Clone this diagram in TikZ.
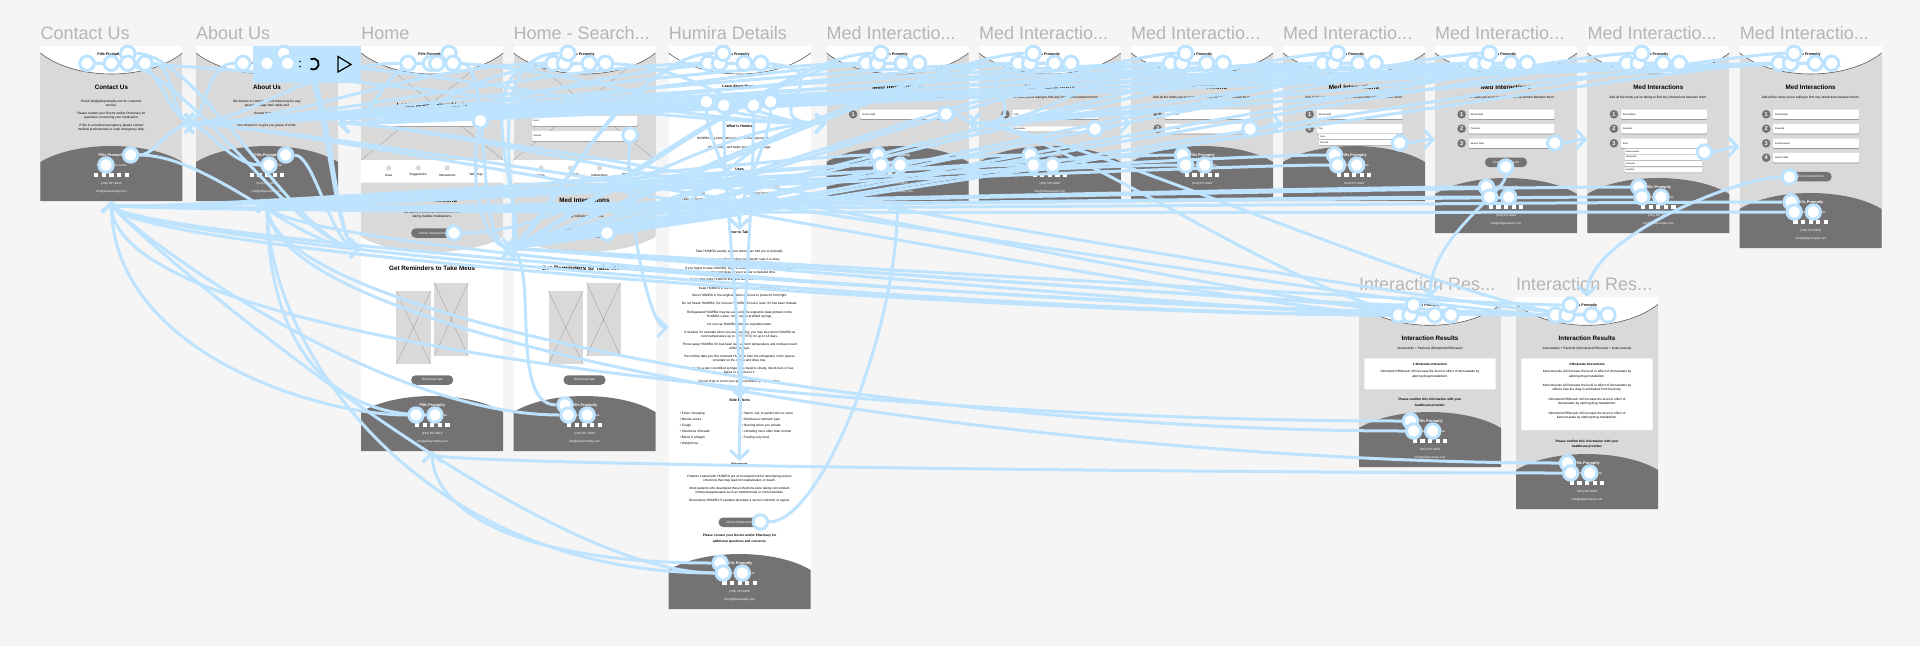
\documentclass[tikz,border=0pt]{standalone}
\usepackage{fontspec}
\setmainfont{Liberation Sans}
\usetikzlibrary{arrows.meta,shadows}
\definecolor{wireblue}{HTML}{BDE3FF}
\definecolor{pagegrey}{HTML}{F5F5F5}
\definecolor{bodygrey}{HTML}{D9D9D9}
\definecolor{footgrey}{HTML}{757273}
\definecolor{titlegrey}{HTML}{B5B5B5}
\pgfdeclarelayer{back}
\pgfdeclarelayer{wires}
\pgfsetlayers{back,wires,main}
\newcounter{lblno}
\tikzset{
  screen/.style={minimum width=142pt,inner sep=0pt,outer sep=0pt},
  frametitle/.style={anchor=west,inner sep=0pt,text=titlegrey,font=\fontsize{18}{20}\selectfont},
  small/.style={inner sep=0pt,align=center,font=\fontsize{3.2}{3.6}\selectfont},
  smallb/.style={inner sep=0pt,align=center,font=\fontsize{3.2}{3.6}\selectfont\bfseries},
  left3/.style={inner sep=0pt,anchor=west,font=\fontsize{3.2}{3.6}\selectfont},
  sect/.style={inner sep=0pt,font=\fontsize{3.6}{4}\selectfont\bfseries},
  head/.style={inner sep=0pt,font=\fontsize{6.3}{7}\selectfont\bfseries},
  whitet/.style={inner sep=0pt,text=white,font=\fontsize{3}{3.6}\selectfont},
  whiteb/.style={inner sep=0pt,text=white,font=\fontsize{3.8}{4}\selectfont\bfseries},
  btn/.style={rounded corners=4.5pt,fill=footgrey,text=white,minimum width=42pt,minimum height=9.5pt,inner sep=0pt,font=\fontsize{3.2}{3.6}\selectfont},
  medbox/.style={rounded corners=1pt,fill=white,drop shadow={shadow xshift=0pt,shadow yshift=-.8pt,fill=black!45,opacity=1},minimum width=86pt,minimum height=9.6pt,inner sep=0pt,text width=82pt,align=left,font=\fontsize{2.4}{3}\selectfont},
  herobox/.style={medbox,minimum width=106pt,text width=102pt},
  dropbox/.style={rounded corners=.6pt,fill=white,drop shadow={shadow xshift=0pt,shadow yshift=-.5pt,fill=black!45,opacity=1},minimum width=78pt,minimum height=5.2pt,inner sep=0pt,text width=75pt,align=left,font=\fontsize{2.2}{3}\selectfont},
  numb/.style={circle,fill=footgrey,text=white,minimum size=8.6pt,inner sep=0pt,font=\fontsize{5.6}{6}\selectfont\bfseries},
  spot/.style={circle,draw=wireblue,line width=3pt,fill=white,minimum size=14.4pt,inner sep=0pt},
  wire/.style={draw=wireblue,line width=3pt,-{Straight Barb[length=9pt,width=19pt]}},
  xline/.style={draw=black!40,line width=.3pt},
}
\newcommand{\lbl}[4]{\stepcounter{lblno}\node[#1] (lbl\arabic{lblno}) at (#2,#3) {#4};}
\newcommand{\Screen}[5]{%
  \pgfmathsetmacro\midy{(45.7+#3)/2}
  \pgfmathsetmacro\midx{#2+71}
  \pgfmathsetmacro\hgt{#3-45.7}
  \node[screen,fill=#5,minimum height=\hgt pt] (#1) at (\midx,\midy) {};
  \node[frametitle] (#1-title) at (#2,33) {#4};
}
% top and bottom caps of a screen, x is local 0
\newcommand{\HeadCap}{%
  \fill[white] (0,45.7) rectangle (142,53.5);
  \fill[white] (0,53) .. controls (35,81) and (107,81) .. (142,53) -- cycle;
  \draw[draw=black!65,line width=.6pt] (0,53) .. controls (35,81) and (107,81) .. (142,53);
  \lbl{sect}{69}{54.5}{Pills Promptly}
  \lbl{small}{71}{63}{Your Medication Guide}
}
\newcommand{\FootCap}[1]{%
  \pgfmathsetmacro\fedge{#1-39}
  \pgfmathsetmacro\fctl{#1-60.3}
  \fill[footgrey] (0,\fedge) .. controls (35,\fctl) and (107,\fctl) .. (142,\fedge) -- (142,#1) -- (0,#1) -- cycle;
  \lbl{whiteb}{71}{#1-45}{Pills Promptly}
  \lbl{whitet}{71}{#1-36}{Your Medication Guide}
  \foreach \i in {-15.2,-7.6,0,7.6,15.2}{
    \fill[white] (71+\i-2.1,#1-28.1) rectangle (71+\i+2.1,#1-23.9);
  }
  \lbl{whitet}{71}{#1-17}{(234) 567-8910}
  \lbl{whitet}{71}{#1-9}{info@pillspromptly.com}
}
\newcommand{\Crossed}[4]{%
  \fill[bodygrey] (#1,#2) rectangle (#3,#4);
  \draw[xline] (#1,#2) -- (#3,#4) (#1,#4) -- (#3,#2);
}
\newcommand{\MedRow}[3]{%
  \lbl{numb}{26.6}{#1}{#2}
  \lbl{medbox}{76.6}{#1}{#3}
}
\newcommand{\MedHead}{%
  \lbl{head}{71}{87}{Med Interactions}
  \lbl{small}{71}{97.3}{Add all the meds you're taking to find any interactions between them.}
}
\newcommand{\HeadSpots}[2]{%
  \node[spot] (#1-h1) at (#2+39.5,63.3) {};
  \node[spot] (#1-h2) at (#2+51,63.3) {};
  \node[spot] (#1-h3) at (#2+54.4,53.3) {};
  \node[spot] (#1-h4) at (#2+75.7,63.3) {};
  \node[spot] (#1-h5) at (#2+92,63.3) {};
}
\newcommand{\FootSpots}[3]{%
  \node[spot] (#1-f1) at (#2+51.5,#3-46) {};
  \node[spot] (#1-f2) at (#2+54.6,#3-36) {};
  \node[spot] (#1-f3) at (#2+73.7,#3-36) {};
}
% from a to b, leaving and entering along the given offsets
\newcommand{\wired}[6]{\draw[wire] (#1) .. controls +(#2,#3) and +(#4,#5) .. (#6);}
\begin{document}
\begin{tikzpicture}[x=1pt,y=-1pt]
\useasboundingbox (0,0) rectangle (1920,646);
\begin{pgfonlayer}{back}
\fill[pagegrey] (0,0) rectangle (1920,646);
\Screen{contact}{40.4}{201}{Contact Us}{bodygrey}
\Screen{about}{196}{201}{About Us}{bodygrey}
\Screen{home}{361.2}{451}{Home}{white}
\Screen{search}{513.5}{451}{Home - Search...}{white}
\Screen{humira}{668.6}{609}{Humira Details}{white}
\Screen{medA}{826.5}{201}{Med Interactio...}{bodygrey}
\Screen{medB}{978.8}{201}{Med Interactio...}{bodygrey}
\Screen{medC}{1131}{201}{Med Interactio...}{bodygrey}
\Screen{medD}{1283}{201}{Med Interactio...}{bodygrey}
\Screen{medE}{1435}{233}{Med Interactio...}{bodygrey}
\Screen{medF}{1587.3}{233}{Med Interactio...}{bodygrey}
\Screen{medG}{1739.6}{248}{Med Interactio...}{bodygrey}
\node[screen,fill=bodygrey,minimum height=170pt] (resA) at (1430,382) {};
\node[frametitle] (resA-title) at (1359,284) {Interaction Res...};
\node[screen,fill=bodygrey,minimum height=212pt] (resB) at (1587,403) {};
\node[frametitle] (resB-title) at (1516,284) {Interaction Res...};

\begin{scope}[xshift=40.4pt]
  \lbl{head}{71}{87}{Contact Us}
  \lbl{small}{71}{101.7}{Email info@pillspromptly.com for customer}
  \lbl{small}{71}{105.7}{service.}
  \lbl{small}{71}{114}{Please contact your Doctor and/or Pharmacy for}
  \lbl{small}{71}{118}{questions concerning your medication.}
  \lbl{small}{71}{126}{If this is a medical emergency, please contact}
  \lbl{small}{71}{130}{medical professionals or seek emergency help.}
  \HeadCap \FootCap{201}
\end{scope}
\begin{scope}[xshift=196pt]
  \lbl{head}{71}{87}{About Us}
  \lbl{small}{71}{101.7}{We believe in continuing and improving the way}
  \lbl{small}{71}{105.7}{people manage their meds and}
  \lbl{small}{71}{114}{change frequently.}
  \lbl{small}{71}{126}{Our mission is to give you peace of mind.}
  \HeadCap \FootCap{201}
\end{scope}

\foreach \sx in {361.2,513.5}{
\begin{scope}[xshift=\sx pt]
  \Crossed{0}{45.7}{142}{160}
  \lbl{head}{71}{105}{Learn About Your Meds}
  \HeadCap
  \foreach \ix/\itext in {27.5/Uses,57/Suggestions,86/Interactions,115/Warnings}{
    \fill[bodygrey] (\ix,168) circle (2.6);
    \lbl{small}{\ix}{175}{\itext}
  }
  \fill[bodygrey] (0,182.7) -- (142,182.7) -- (142,237) .. controls (107,257) and (35,257) .. (0,237) -- cycle;
  \lbl{head}{71}{200}{Med Interactions}
  \lbl{small}{71}{212.7}{Be aware of potential interactions when}
  \lbl{small}{71}{216.7}{taking multiple medications.}
  \lbl{btn}{71}{233}{Check Interactions}
  \lbl{head}{71}{268}{Get Reminders to Take Meds}
  \Crossed{35}{291}{69.5}{364}
  \Crossed{73}{282.7}{107}{356}
  \lbl{btn}{71}{380}{Download App}
  \FootCap{451}
\end{scope}
}
\begin{scope}[xshift=361.2pt]
  \lbl{herobox}{71}{121}{Search Med}
\end{scope}
\begin{scope}[xshift=513.5pt]
  \lbl{herobox}{71}{121}{Hum}
  \lbl{herobox}{71}{136}{Humira}
\end{scope}

\begin{scope}[xshift=668.6pt]
  \HeadCap
  \lbl{sect}{71}{86}{Learn About Humira}
  \fill[footgrey] (11,99) rectangle (131,101);
  \lbl{sect}{71}{126.7}{What is Humira}
  \lbl{small}{71}{139}{HUMIRA is a prescription medicine that reduces the signs of}
  \lbl{small}{71}{147.7}{inflammation and helps stop further damage.}
  \lbl{sect}{71}{169}{Uses}
  \foreach \ly/\lt/\rt in {181/Rheumatoid Arthritis (RA)/Juvenile Arthritis,
    187.3/Plaque Psoriasis/Hidradenitis Suppurativa,
    193.3/Crohn's Disease/Ankylosing Spondylitis,
    199.5/Pediatric Crohn's Disease/Psoriatic Arthritis,
    205.7/Ulcerative Colitis/Pediatric Uveitis}{
    \lbl{left3}{11}{\ly}{• \lt}
    \lbl{left3}{73.5}{\ly}{• \rt}
  }
  \lbl{sect}{71}{232}{How to Take}
  \foreach \ly/\lt in {251.7/Take HUMIRA exactly as your doctor has told you to (trained).,
    260/Do not miss any doses unless your doctor says it is okay.,
    268.3/{If you forget to take HUMIRA, inject a dose as soon as you remember. Then,},
    272.3/take your next dose at your regular scheduled time.,
    280/{If you take more HUMIRA than you were told to take, call your doctor.},
    288.3/Keep HUMIRA in the refrigerator between 36°F and 46°F.,
    296/Store HUMIRA in the original carton until use to protect it from light.,
    304/{Do not freeze HUMIRA. Do not use HUMIRA if frozen, even if it has been thawed.},
    312.3/Refrigerated HUMIRA may be used until the expiration date printed on the,
    316.3/{HUMIRA carton, dose tray or prefilled syringe.},
    324.7/Do not use HUMIRA after the expiration date.,
    332.7/{If needed, for example when you are traveling, you may also store HUMIRA at},
    336.7/room temperature up to 77°F (25°C) for up to 14 days.,
    345/Throw away HUMIRA if it has been kept at room temperature and not been used,
    349/within 14 days.,
    357/Record the date you first removed HUMIRA from the refrigerator in the spaces,
    361/provided on the carton and dose tray.,
    369/{Do not use a pen or prefilled syringe if the liquid is cloudy, discolored, or has},
    373/flakes or particles in it.,
    381.3/Do not drop or crush your pen or prefilled syringe is glass.,
    476.3/Patients treated with HUMIRA are at increased risk for developing serious,
    480.3/infections that may lead to hospitalization or death.,
    488.7/Most patients who developed these infections were taking concomitant,
    492.7/immunosuppressants such as methotrexate or corticosteroids.,
    500.7/Discontinue HUMIRA if a patient develops a serious infection or sepsis.}{
    \lbl{small}{71}{\ly}{\lt}
  }
  \lbl{sect}{71}{400.7}{Side Effects}
  \foreach \ly/\lt/\rt in {413.7/{Fever, Sweating}/{Warm, red, or painful skin or sores},
    419.3/Muscle aches/Diarrhea or stomach pain,
    425.3/Cough/Burning when you urinate,
    431.3/Shortness of breath/Urinating more often than normal,
    437.3/Blood in phlegm/Feeling very tired}{
    \lbl{left3}{11}{\ly}{• \lt}
    \lbl{left3}{73.5}{\ly}{• \rt}
  }
  \lbl{left3}{11}{443.3}{• Weight loss}
  \lbl{sect}{71}{464.7}{Warnings}
  \lbl{btn}{71}{522.3}{Check Interactions}
  \lbl{smallb}{71}{536}{Please contact your Doctor and/or Pharmacy for}
  \lbl{smallb}{71}{541.3}{additional questions and concerns.}
  \FootCap{609}
\end{scope}

\begin{scope}[xshift=826.5pt]
  \MedHead \HeadCap \FootCap{201}
  \MedRow{114.3}{1}{Search Med}
\end{scope}
\begin{scope}[xshift=978.8pt]
  \MedHead \HeadCap \FootCap{201}
  \MedRow{114.3}{1}{Ator}
  \lbl{dropbox}{72.5}{129}{Atorvastatin}
\end{scope}
\begin{scope}[xshift=1131pt]
  \MedHead \HeadCap \FootCap{201}
  \MedRow{114.3}{1}{Atorvastatin}
  \MedRow{128.7}{2}{Search Med}
\end{scope}
\begin{scope}[xshift=1283pt]
  \MedHead \HeadCap \FootCap{201}
  \MedRow{114.3}{1}{Atorvastatin}
  \MedRow{128.7}{2}{Pax}
  \lbl{dropbox}{74.5}{136.7}{Paxil}
  \lbl{dropbox}{74.5}{142.7}{Paxlovid}
\end{scope}
\begin{scope}[xshift=1435pt]
  \MedHead \HeadCap \FootCap{233}
  \MedRow{114.3}{1}{Atorvastatin}
  \MedRow{128.7}{2}{Paxlovid}
  \MedRow{143.3}{3}{Search Med}
  \lbl{btn}{71}{162.3}{Check Interactions}
\end{scope}
\begin{scope}[xshift=1587.3pt]
  \MedHead \HeadCap \FootCap{233}
  \MedRow{114.3}{1}{Atorvastatin}
  \MedRow{128.7}{2}{Paxlovid}
  \MedRow{143.3}{3}{Keto}
  \foreach \ly/\lt in {151.3/Ketoconazole,157.3/Ketoprofen,163.7/Ketorolac,170/Ketotifen}{
    \lbl{dropbox}{76}{\ly}{\lt}
  }
\end{scope}
\begin{scope}[xshift=1739.6pt]
  \MedHead \HeadCap \FootCap{248}
  \MedRow{114.3}{1}{Atorvastatin}
  \MedRow{128.7}{2}{Paxlovid}
  \MedRow{143.3}{3}{Ketoconazole}
  \MedRow{157.7}{4}{Search Med}
  \lbl{btn}{71}{176.7}{Check Interactions}
\end{scope}

\begin{scope}[xshift=1359pt,yshift=-251.3pt]
  \HeadCap
\end{scope}
\begin{scope}[xshift=1359pt]
  \lbl{head}{71}{338.3}{Interaction Results}
  \lbl{small}{71}{349}{Atorvastatin + Paxlovid (Nirmatrelvir/Ritonavir)}
  \fill[white,rounded corners=1pt] (5.3,358.3) rectangle (136.7,389.3);
  \lbl{smallb}{71}{364}{1 Moderate Interaction}
  \lbl{small}{71}{372}{Nirmatrelvir/Ritonavir will increase the level or effect of Atorvastatin by}
  \lbl{small}{71}{377}{altering drug metabolism.}
  \lbl{smallb}{71}{400}{Please confirm this information with your}
  \lbl{smallb}{71}{405.3}{healthcare provider.}
  \FootCap{467}
\end{scope}
\begin{scope}[xshift=1516pt,yshift=-251.3pt]
  \HeadCap
\end{scope}
\begin{scope}[xshift=1516pt]
  \lbl{head}{71}{338.3}{Interaction Results}
  \lbl{small}{71}{349}{Atorvastatin + Paxlovid (Nirmatrelvir/Ritonavir) + Ketoconazole}
  \fill[white,rounded corners=1pt] (5.3,358.3) rectangle (136.7,430);
  \lbl{smallb}{71}{364}{4 Moderate Interactions}
  \lbl{small}{71}{372}{Ketoconazole will increase the level or effect of Atorvastatin by}
  \lbl{small}{71}{376.5}{altering drug metabolism.}
  \lbl{small}{71}{385.5}{Ketoconazole will increase the level or effect of Atorvastatin by}
  \lbl{small}{71}{390}{affects how the drug is eliminated from the body.}
  \lbl{small}{71}{399}{Nirmatrelvir/Ritonavir will increase the level or effect of}
  \lbl{small}{71}{403.5}{Atorvastatin by altering drug metabolism.}
  \lbl{small}{71}{413}{Nirmatrelvir/Ritonavir will increase the level or effect of}
  \lbl{small}{71}{417.5}{Ketoconazole by altering drug metabolism.}
  \lbl{smallb}{71}{441.7}{Please confirm this information with your}
  \lbl{smallb}{71}{447}{healthcare provider.}
  \FootCap{509}
\end{scope}
\end{pgfonlayer}

% hotspots
\node[spot] (contact-h1) at (87,63.3) {};
\node[spot] (contact-h2) at (111.4,63.3) {};
\node[spot] (contact-h3) at (127.8,53.3) {};
\node[spot] (contact-h4) at (127.8,63.3) {};
\node[spot] (contact-h5) at (145,63.3) {};
\node[spot] (contact-f1) at (130.6,155) {};
\node[spot] (contact-f2) at (106,165) {};
\node[spot] (about-h1) at (243,63.3) {};
\node[spot] (about-h2) at (267,63.3) {};
\node[spot] (about-h3) at (283.7,53.3) {};
\node[spot] (about-h4) at (287.7,63.3) {};
\node[spot] (about-f1) at (285.7,155) {};
\node[spot] (about-f2) at (269,165) {};
\node[spot] (home-h1) at (408,63.3) {};
\node[spot] (home-h2) at (430.6,63.3) {};
\node[spot] (home-h3) at (436.7,63.3) {};
\node[spot] (home-h4) at (449,53.3) {};
\node[spot] (home-h5) at (453,63.3) {};
\node[spot] (home-b1) at (454,233) {};
\node[spot] (home-b2) at (480.4,120.7) {};
\node[spot] (home-f1) at (416,415) {};
\node[spot] (home-f2) at (435,415) {};
\node[spot] (search-b1) at (607,233) {};
\node[spot] (search-b2) at (630,135) {};
\node[spot] (humira-tab1) at (706.5,101.7) {};
\node[spot] (humira-tab2) at (723.7,105.3) {};
\node[spot] (humira-tab3) at (753.5,105.3) {};
\node[spot] (humira-tab4) at (770.6,101.7) {};
\node[spot] (humira-b1) at (760.4,522) {};
\node[spot] (medA-b1) at (946,114) {};
\node[spot] (medB-b1) at (1095,129) {};
\node[spot] (medC-b1) at (1250,129) {};
\node[spot] (medD-b1) at (1399.6,143) {};
\node[spot] (medE-b1) at (1554.7,143) {};
\node[spot] (medE-b2) at (1505.7,167) {};
\node[spot] (medF-b1) at (1704.5,152) {};
\node[spot] (medG-b1) at (1789.4,177) {};
\HeadSpots{search}{513.5}
\HeadSpots{humira}{668.6}
\HeadSpots{medA}{826.5}
\HeadSpots{medB}{978.8}
\HeadSpots{medC}{1131}
\HeadSpots{medD}{1283}
\HeadSpots{medE}{1435}
\HeadSpots{medF}{1587.3}
\HeadSpots{medG}{1739.6}
\begin{scope}[yshift=-251.7pt]
  \HeadSpots{resA}{1359}
  \HeadSpots{resB}{1516}
\end{scope}
\FootSpots{search}{513.5}{451}
\FootSpots{humira}{668.6}{609}
\FootSpots{medA}{826.5}{201}
\FootSpots{medB}{978.8}{201}
\FootSpots{medC}{1131}{201}
\FootSpots{medD}{1283}{201}
\FootSpots{medE}{1435}{233}
\FootSpots{medF}{1587.3}{233}
\FootSpots{medG}{1739.6}{248}
\FootSpots{resA}{1359}{467}
\FootSpots{resB}{1516}{509}

\coordinate (humSideA) at (739.4,230);
\coordinate (humSideB) at (739.4,398);
\coordinate (humSideC) at (739.4,461);

\begin{pgfonlayer}{wires}
% header links
\foreach \s in {search,humira,medA,medB,medC,medD,medE,medF,medG,resA,resB}{
  \wired{\s-h1}{-100}{0}{40}{0}{home.east}
  \wired{\s-h2}{-160}{0}{120}{0}{contact.east}
  \wired{\s-h3}{-100}{0}{30}{0}{home.east}
  \wired{\s-h5}{-160}{0}{120}{0}{about.east}
}
\foreach \s in {medB,medC,medD,medE,medF,medG,resA,resB}{
  \wired{\s-h4}{-120}{0}{90}{0}{medA.east}
}
\foreach \s in {search,humira}{
  \wired{\s-h4}{120}{0}{-90}{0}{medA.west}
}
% footer links
\foreach \s/\d in {medA/80,medB/100,medC/120,medD/150,medE/200,medF/250,medG/300,search/200,humira/200}{
  \wired{\s-f2}{-\d}{0}{0}{14}{contact.south}
}
\foreach \s/\d in {medA/80,medB/100,medC/120,medD/150,medE/200,medF/250,medG/300}{
  \wired{\s-f1}{-\d}{0}{0}{14}{about.south}
}
\wired{resA-f1}{-500}{0}{0}{150}{contact.south}
\wired{resA-f2}{-500}{0}{0}{120}{about.south}
\wired{resB-f1}{-500}{0}{0}{150}{about.south}
\wired{resB-f2}{-300}{0}{0}{14}{home.south}
\wired{resA-h1}{-400}{0}{0}{50}{contact.south}
\wired{resA-h2}{-400}{0}{0}{40}{contact.south}
\wired{resB-h1}{-400}{0}{0}{50}{about.south}
\wired{resB-h2}{-400}{0}{0}{40}{contact.south}
\wired{home-f1}{-100}{0}{0}{150}{contact.south}
\wired{home-f2}{-100}{0}{0}{150}{about.south}
\wired{search-f1}{-60}{0}{40}{0}{home.east}
\wired{humira-f1}{-200}{0}{0}{60}{home.south}
\wired{humira-f2}{-300}{0}{0}{150}{about.south}
% contact and about
\wired{contact-h5}{30}{0}{-25}{0}{about.west}
\wired{contact-h4}{30}{0}{-25}{0}{about.west}
\wired{contact-h3}{70}{0}{-60}{0}{home.west}
\wired{contact-h2}{70}{0}{-60}{0}{home.west}
\wired{contact-h1}{200}{0}{-200}{0}{medA.west}
\wired{contact-f1}{25}{0}{-25}{0}{about.west}
\wired{contact-f1}{80}{0}{-60}{0}{home.west}
\wired{about-h3}{50}{0}{-30}{0}{home.west}
\wired{about-h4}{40}{0}{-30}{0}{home.west}
\wired{about-h2}{150}{0}{-150}{0}{medA.west}
\wired{about-h1}{-40}{0}{25}{0}{contact.east}
\wired{about-f1}{30}{0}{-30}{0}{home.west}
\wired{about-f2}{-40}{0}{25}{0}{contact.east}
% home
\wired{home-h1}{-100}{0}{70}{0}{contact.east}
\wired{home-h2}{-50}{0}{40}{0}{about.east}
\wired{home-h3}{120}{0}{-90}{0}{medA.west}
\wired{home-h5}{40}{0}{-40}{0}{search.west}
\wired{home-b1}{120}{0}{-120}{0}{medA.west}
\wired{home-b2}{-12}{60}{-30}{0}{search.west}
\wired{search-b1}{80}{0}{-80}{0}{medA.west}
\wired{search-b2}{-5}{70}{-20}{0}{humira.west}
% humira
\wired{humira-tab1}{0}{40}{0}{-40}{humSideA}
\wired{humira-tab2}{0}{90}{0}{-90}{humSideB}
\wired{humira-tab3}{0}{110}{0}{-110}{humSideC}
\wired{humira-tab4}{0}{40}{0}{-40}{humSideA}
\wired{humira-b1}{60}{0}{0}{130}{medA.south}
% med flow
\wired{medA-b1}{12}{0}{-12}{0}{medB.west}
\wired{medB-b1}{15}{0}{-12}{0}{medC.west}
\wired{medC-b1}{12}{0}{-12}{0}{medD.west}
\wired{medD-b1}{12}{0}{-12}{0}{medE.west}
\wired{medE-b1}{12}{0}{-12}{0}{medF.west}
\wired{medF-b1}{12}{0}{-12}{0}{medG.west}
\wired{medE-b2}{0}{25}{0}{-60}{resA.north}
\wired{medG-b1}{-50}{0}{0}{-60}{resB.north}
% flow bar
\fill[wireblue] (253,46) rectangle (361.2,82.7);
\fill[black] (300,61.5) circle (.8) (300,66.5) circle (.8);
\draw[black,line width=1.8pt] (310.5,59.2) arc (-120:120:5.5);
\draw[black,line width=1.2pt] (338,56.5) -- (351,64.5) -- (338,72) -- cycle;
\end{pgfonlayer}
\end{tikzpicture}
\end{document}
